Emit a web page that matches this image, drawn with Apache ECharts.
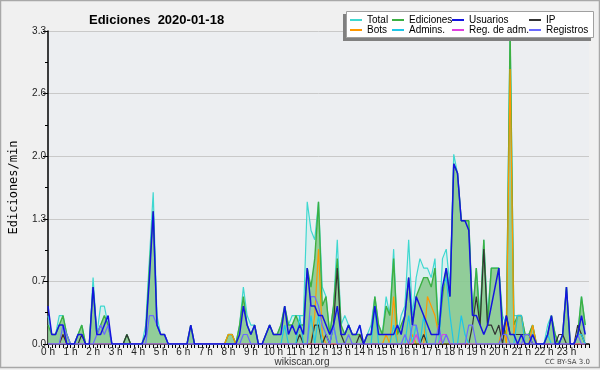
<!DOCTYPE html>
<html>
<head>
<meta charset="utf-8">
<script src="https://cdn.jsdelivr.net/npm/echarts@6/dist/echarts.min.js"></script>
<style>
  html, body { margin: 0; padding: 0; background: #f0f0f0; }
  #chart { width: 600px; height: 370px; }
</style>
</head>
<body>
<div id="chart"></div>
<script>
// one value every 10 minutes, in edits/min (24 h x 6)
var total = [
  0.3,0.1,0.1,0.3,0.3,0.1,  0,0,0.1,0.2,0,0,  0.7,0.1,0.4,0.4,0.2,0,  0,0,0,0.1,0,0,
  0,0,0.2,0.9,1.6,0.3,  0.1,0.1,0,0,0,0,  0,0,0.2,0,0,0,  0,0,0,0,0,0,
  0.1,0.1,0,0.2,0.6,0.3,  0.2,0.2,0,0,0.1,0.2,  0.1,0.1,0.2,0.4,0.2,0.3,  0.3,0.3,0.3,1.5,1.2,1.1,
  1.5,0.6,0.5,0.1,0.4,1.1,  0.2,0.3,0.2,0.1,0.1,0.2,  0,0.1,0.2,0.5,0.2,0.1,  0.5,0.3,1.0,0.1,0.3,0.4,
  1.1,0.3,0.7,0.9,0.8,0.8,  0.7,0.9,0.1,0.9,1.0,0.6,  2.0,1.8,1.3,1.3,1.3,0.3,  0.8,0.3,1.1,0.3,0.8,0.8,
  0.8,0.3,0.2,3.3,0.3,0.3,  0.3,0.1,0.1,0.2,0,0,  0,0.2,0.3,0.1,0,0.1,  0.6,0,0,0.1,0.5,0.2
];
var ediciones = [
  0.2,0.1,0.1,0.2,0.3,0.1,  0,0,0.1,0.2,0,0,  0.6,0.1,0.2,0.3,0.2,0,  0,0,0,0.1,0,0,
  0,0,0.1,0.8,1.4,0.2,  0.1,0.1,0,0,0,0,  0,0,0.2,0,0,0,  0,0,0,0,0,0,
  0.1,0.1,0,0.2,0.5,0.2,  0.1,0.2,0,0,0.1,0.2,  0.1,0.1,0.2,0.4,0.2,0.2,  0.3,0.2,0.2,0.8,0.6,0.9,
  1.5,0.4,0.5,0.1,0.4,0.9,  0.2,0.1,0.2,0.1,0.1,0.1,  0,0.1,0.1,0.5,0.2,0.1,  0.4,0.3,0.9,0.1,0.2,0.3,
  0.7,0.2,0.5,0.6,0.7,0.7,  0.6,0.8,0.1,0.5,0.8,0.5,  1.9,1.8,1.3,1.3,1.3,0.3,  0.8,0.2,1.1,0.2,0.8,0.8,
  0.8,0.2,0.1,3.3,0.2,0.3,  0.3,0.1,0.1,0.2,0,0,  0,0.1,0.3,0.1,0,0.1,  0.6,0,0,0.1,0.5,0.2
];
var usuarios = [
  0.4,0.1,0.1,0.2,0.2,0,  0,0,0.1,0.1,0,0,  0.6,0.1,0.1,0.2,0.3,0,  0,0,0,0,0,0,
  0,0,0.1,0.7,1.4,0.2,  0.1,0.1,0,0,0,0,  0,0,0.2,0,0,0,  0,0,0,0,0,0,
  0,0,0,0.1,0.4,0.2,  0.1,0.2,0,0,0.1,0.2,  0.1,0.1,0.1,0.4,0.1,0.2,  0.1,0.2,0.1,0.8,0.4,0.4,
  0.3,0.3,0.2,0.1,0.2,0.4,  0.1,0.1,0.2,0.1,0.1,0.2,  0,0.1,0.1,0.4,0.1,0.1,  0.1,0.1,0.1,0.2,0.1,0.3,
  0.7,0.2,0.5,0.4,0.3,0.2,  0.1,0.1,0.1,0.6,0.8,0.5,  1.9,1.8,1.3,1.3,1.2,0.3,  0.3,0.2,0.1,0.2,0.4,0.6,
  0.8,0.1,0.3,0.1,0.1,0,  0.1,0,0,0.1,0,0,  0,0.1,0.3,0,0,0.1,  0.6,0,0,0.1,0.3,0.1
];
var ip = [
  0,0,0,0,0.1,0,  0,0,0,0.1,0,0,  0,0,0,0,0,0,  0,0,0,0.1,0,0,
  0,0,0,0,0,0,  0,0,0,0,0,0,  0,0,0,0,0,0,  0,0,0,0,0,0,
  0,0,0,0,0,0,  0,0,0,0,0,0,  0,0,0,0,0,0,  0,0.1,0,0,0,0.2,
  0.2,0,0.1,0,0.2,0.8,  0.1,0,0,0,0,0.1,  0,0,0,0,0,0,  0,0,0,0,0,0,
  0,0,0,0,0.1,0,  0,0,0,0,0,0,  0,0,0,0,0,0.2,  0.5,0.2,1.0,0.2,0.2,0.1,
  0.2,0,0.3,0.1,0.1,0.1,  0.1,0.1,0.1,0,0,0,  0,0,0,0,0.1,0.1,  0,0,0,0.2,0.1,0
];
var bots = [
  0,0,0,0,0.1,0,  0,0,0,0,0,0,  0,0,0,0,0,0,  0,0,0,0,0,0,
  0,0,0,0,0,0,  0,0,0,0,0,0,  0,0,0,0,0,0,  0,0,0,0,0,0,
  0.1,0.1,0,0,0,0,  0,0,0,0,0,0,  0,0,0,0,0,0,  0,0,0,0,0,0.3,
  1.0,0.1,0,0,0,0,  0,0,0,0,0,0,  0,0,0,0,0,0,  0.1,0,0.5,0,0,0,
  0,0.1,0,0,0,0.5,  0.4,0.3,0.1,0,0,0,  0,0,0,0,0,0,  0,0,0,0,0,0,
  0,0.2,0,2.9,0.1,0.3,  0.3,0,0,0.2,0,0,  0,0,0,0,0,0,  0,0,0,0,0,0
];
var admins = [
  0,0,0,0,0,0,  0,0,0,0,0,0,  0,0,0,0,0,0,  0,0,0,0,0,0,
  0,0,0,0,0,0,  0,0,0,0,0,0,  0,0,0,0,0,0,  0,0,0,0,0,0,
  0,0,0,0,0,0,  0,0,0,0,0,0,  0,0,0,0.2,0,0,  0,0.3,0,0,0.3,0,
  0.3,0,0,0,0.2,0,  0,0,0,0,0,0,  0,0,0,0.4,0,0,  0,0,0.2,0,0,0,
  0.3,0,0.2,0,0.3,0,  0,0,0,0.6,0.7,0.3,  0,0,0.3,0.1,0,0,  0,0,0,0,0,0,
  0,0,0,0,0,0.3,  0.3,0,0,0,0,0,  0,0.1,0,0,0,0,  0,0,0,0.1,0.1,0
];
var regAdm = [
  0,0,0,0,0,0,  0,0,0,0,0,0,  0,0,0,0,0,0,  0,0,0,0,0,0,
  0,0,0,0,0,0,  0,0,0,0,0,0,  0,0,0,0,0,0,  0,0,0,0,0,0,
  0,0,0,0,0,0,  0,0,0,0,0,0,  0,0,0,0,0,0,  0,0,0,0,0,0,
  0,0,0,0,0,0,  0,0,0,0,0,0,  0,0,0,0,0,0,  0,0,0,0,0,0,
  0,0,0.1,0,0,0,  0,0,0,0.1,0.1,0,  0,0,0,0,0,0,  0,0,0,0,0,0,
  0,0,0,0,0,0,  0,0,0,0,0,0,  0,0,0,0,0,0,  0,0,0,0,0,0
];
var registros = [
  0,0,0,0,0.2,0.1,  0,0,0,0,0,0,  0,0.1,0.2,0.1,0.2,0,  0,0,0,0,0,0,
  0,0,0,0.3,0.3,0.2,  0.1,0.1,0,0,0,0,  0,0,0,0,0,0,  0,0,0,0,0,0,
  0,0,0,0,0.1,0.1,  0,0,0,0,0,0,  0,0,0,0,0,0,  0,0,0,0,0.5,0.5,
  0.4,0.2,0.1,0,0.2,0,  0,0,0.1,0,0,0,  0,0,0,0,0,0,  0,0,0,0,0,0.1,
  0,0.2,0.2,0,0,0,  0,0,0.2,0,0.1,0,  0,0,0,0,0.2,0.2,  0,0,0,0,0,0,
  0,0.1,0.1,0,0,0,  0,0.1,0.1,0,0,0,  0,0,0,0,0,0,  0,0,0,0.1,0,0
];

var hours = total.map(function (v, i) { return i / 6; });
function pairs(arr) {
  return arr.map(function (v, i) { return [hours[i], v]; });
}

var chart = echarts.init(document.getElementById('chart'));

function line(name, data, color, width, z) {
  return {
    name: name,
    type: 'line',
    data: pairs(data),
    showSymbol: false,
    symbol: 'none',
    z: z,
    lineStyle: { color: color, width: width },
    itemStyle: { color: color }
  };
}

var sTotal = line('Total', total, '#3fd8d0', 1.2, 2);
sTotal.areaStyle = { color: '#cdeeed', opacity: 0.6 };
var sEd = line('Ediciones', ediciones, '#3cb043', 1.4, 3);
sEd.areaStyle = { color: '#78c27c', opacity: 0.75 };

var legendFont = { fontFamily: 'Liberation Sans', fontSize: 10, color: '#000', lineHeight: 10 };
function legendCol(left, names) {
  return {
    data: names,
    orient: 'vertical',
    left: left,
    top: 15,
    padding: 0,
    itemGap: 0,
    itemWidth: 12,
    itemHeight: 2,
    icon: 'rect',
    selectedMode: false,
    z: 12,
    textStyle: legendFont
  };
}

option = {
  backgroundColor: '#f0f0f0',
  animation: false,
  title: {
    text: 'Ediciones  2020-01-18',
    left: 84,
    top: 9,
    textStyle: { fontFamily: 'Liberation Sans', fontSize: 13, fontWeight: 'bold', color: '#000' }
  },
  legend: [
    legendCol(350, ['Total', 'Bots']),
    legendCol(392, ['Ediciones', 'Admins.']),
    legendCol(452, ['Usuarios', 'Reg. de adm.']),
    legendCol(529, ['IP', 'Registros'])
  ],
  grid: {
    left: 46, right: 11, top: 31, bottom: 26,
    show: true, backgroundColor: '#eceef1', borderWidth: 0
  },
  xAxis: {
    type: 'value',
    min: 0, max: 24, interval: 1,
    axisLine: { lineStyle: { color: '#000', width: 1.5 } },
    axisTick: { show: true, length: 4, lineStyle: { color: '#000' } },
    minorTick: { show: true, splitNumber: 6, length: 4, lineStyle: { color: '#000' } },
    splitLine: { show: false },
    axisLabel: {
      margin: 3,
      fontFamily: 'Liberation Sans', fontSize: 10, color: '#222',
      formatter: function (v) { return v < 24 ? v + ' h' : ''; }
    }
  },
  yAxis: {
    type: 'value',
    min: 0, max: 3.3, interval: 0.66,
    name: 'Ediciones/min',
    nameLocation: 'middle',
    nameGap: 28,
    nameTextStyle: { fontFamily: 'DejaVu Sans Mono', fontSize: 12, color: '#000' },
    axisLine: { show: true, lineStyle: { color: '#000', width: 1.5 } },
    axisTick: { show: true, length: 5, lineStyle: { color: '#000' } },
    minorTick: { show: true, splitNumber: 2, length: 3, lineStyle: { color: '#000' } },
    splitLine: { show: true, lineStyle: { color: '#c9c9c9', width: 1 } },
    axisLabel: {
      margin: 2,
      fontFamily: 'Liberation Sans', fontSize: 10, color: '#222',
      formatter: function (v) { return v.toFixed(1); }
    }
  },
  series: [
    sTotal,
    sEd,
    line('Bots', bots, '#ff9800', 1.2, 4),
    line('IP', ip, '#333333', 1.2, 4),
    line('Admins.', admins, '#1fc6e6', 1.2, 4),
    line('Reg. de adm.', regAdm, '#e040e0', 1.2, 4),
    line('Registros', registros, '#6a6aff', 1.2, 4),
    line('Usuarios', usuarios, '#1414e0', 1.5, 5)
  ],
  graphic: [
    { type: 'rect', z: 10, shape: { x: 343, y: 14, width: 248, height: 27 }, style: { fill: '#808080' } },
    { type: 'rect', z: 11, shape: { x: 346.5, y: 11.5, width: 247, height: 26 }, style: { fill: '#ffffff', stroke: '#a0a0a0', lineWidth: 1 } },
    { type: 'text', z: 11, x: 302, y: 362, style: { text: 'wikiscan.org', fill: '#333', font: '10px "Liberation Sans"', align: 'center', verticalAlign: 'middle' } },
    { type: 'text', z: 11, x: 590, y: 362, style: { text: 'CC BY-SA 3.0', fill: '#444', font: '7px "DejaVu Sans"', align: 'right', verticalAlign: 'middle' } },
    { type: 'rect', z: 11, silent: true, shape: { x: 0.5, y: 0.5, width: 599, height: 367 }, style: { fill: 'none', stroke: '#a8a8a8', lineWidth: 1.5 } }
  ]
};
chart.setOption(option);
</script>
</body>
</html>
